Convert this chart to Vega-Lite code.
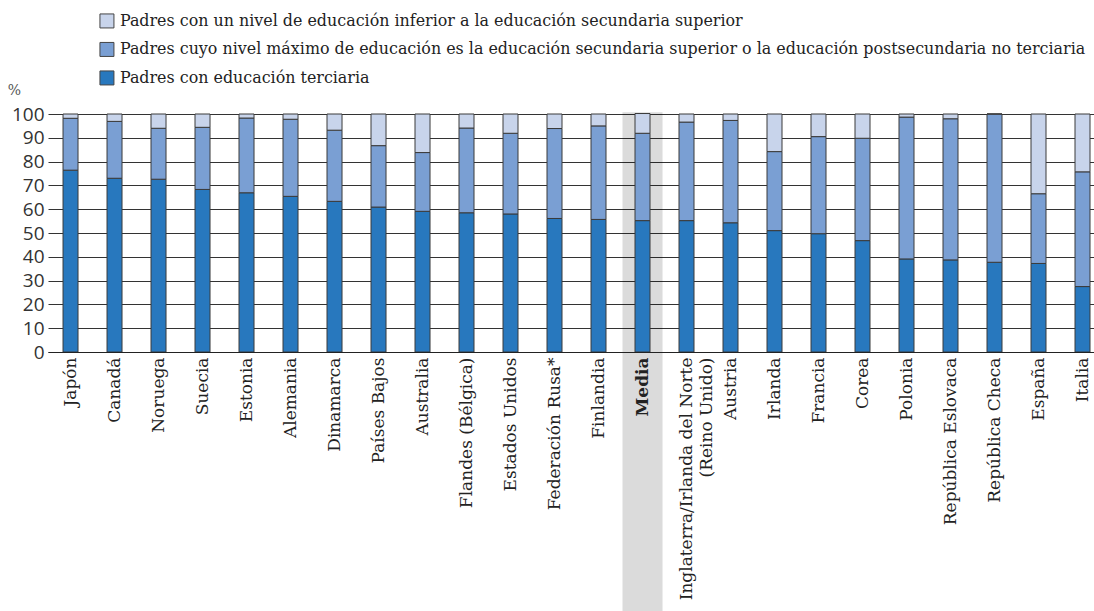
{
  "$schema": "https://vega.github.io/schema/vega-lite/v6.json",
  "width": 1046,
  "height": 238,
  "autosize": {"type": "none"},
  "padding": {"left": 48, "top": 114, "right": 0, "bottom": 259},
  "background": "white",
  "config": {"view": {"stroke": null}},
  "data": {
    "values": [
      {"country": "Japón", "t": 76.4, "s": 21.8, "i": 1.8},
      {"country": "Canadá", "t": 73.0, "s": 23.9, "i": 3.1},
      {"country": "Noruega", "t": 72.6, "s": 21.4, "i": 6.0},
      {"country": "Suecia", "t": 68.3, "s": 26.1, "i": 5.6},
      {"country": "Estonia", "t": 66.9, "s": 31.4, "i": 1.7},
      {"country": "Alemania", "t": 65.4, "s": 32.4, "i": 2.2},
      {"country": "Dinamarca", "t": 63.3, "s": 29.9, "i": 6.8},
      {"country": "Países Bajos", "t": 60.9, "s": 25.8, "i": 13.3},
      {"country": "Australia", "t": 59.1, "s": 24.7, "i": 16.2},
      {"country": "Flandes (Bélgica)", "t": 58.5, "s": 35.6, "i": 5.9},
      {"country": "Estados Unidos", "t": 58.0, "s": 33.9, "i": 8.1},
      {"country": "Federación Rusa*", "t": 56.1, "s": 37.8, "i": 6.1},
      {"country": "Finlandia", "t": 55.7, "s": 39.3, "i": 5.0},
      {"country": "Media", "t": 55.2, "s": 36.7, "i": 8.3},
      {"country": "Inglaterra/Irlanda del Norte (Reino Unido)", "t": 55.2, "s": 41.4, "i": 3.4},
      {"country": "Austria", "t": 54.3, "s": 43.0, "i": 2.7},
      {"country": "Irlanda", "t": 51.0, "s": 33.2, "i": 15.8},
      {"country": "Francia", "t": 49.7, "s": 40.8, "i": 9.5},
      {"country": "Corea", "t": 46.8, "s": 43.0, "i": 10.2},
      {"country": "Polonia", "t": 39.1, "s": 59.6, "i": 1.3},
      {"country": "República Eslovaca", "t": 38.7, "s": 59.3, "i": 2.0},
      {"country": "República Checa", "t": 37.7, "s": 62.3, "i": 0.0},
      {"country": "España", "t": 37.2, "s": 29.3, "i": 33.5},
      {"country": "Italia", "t": 27.5, "s": 48.2, "i": 24.3}
    ]
  },
  "transform": [{"fold": ["t", "s", "i"], "as": ["level", "value"]}],
  "encoding": {
    "x": {
      "field": "country",
      "type": "nominal",
      "sort": null,
      "scale": {"paddingInner": 0.659, "paddingOuter": 0.216, "align": 0.79},
      "axis": {
        "title": null,
        "labelAngle": -90,
        "labelFont": "DejaVu Serif",
        "labelFontSize": 17,
        "labelColor": "#222",
        "labelPadding": 5,
        "labelLimit": 0,
        "labelLineHeight": 20,
        "ticks": false,
        "domain": true,
        "domainColor": "#222",
        "domainWidth": 1.2,
        "zindex": 1,
        "labelExpr": "datum.value === 'Inglaterra/Irlanda del Norte (Reino Unido)' ? ['Inglaterra/Irlanda del Norte', '(Reino Unido)'] : datum.label",
        "labelFontWeight": {"condition": {"test": "datum.value === 'Media'", "value": "bold"}, "value": "normal"}
      }
    }
  },
  "layer": [
    {
      "transform": [{"filter": "datum.level === 't'"}],
      "mark": {"type": "bar", "width": {"band": 2.67}, "color": "#000", "clip": false},
      "encoding": {
        "opacity": {"condition": {"test": "datum.country === 'Media'", "value": 0.14}, "value": 0},
        "y": {
          "datum": 100.7,
          "type": "quantitative",
          "scale": {"domain": [0, 100], "nice": false, "zero": true},
          "axis": {
            "values": [0, 10, 20, 30, 40, 50, 60, 70, 80, 90, 100],
            "grid": true,
            "gridColor": "#333",
            "gridWidth": 1.1,
            "domain": false,
            "ticks": false,
            "labelFont": "Open Sans",
            "labelFontSize": 19,
            "labelColor": "#333",
            "labelPadding": 4,
            "title": "%",
            "titleAngle": 0,
            "titleX": -34,
            "titleY": -24,
            "titleFont": "DejaVu Serif",
            "titleFontSize": 14,
            "titleFontWeight": "normal",
            "titleColor": "#555",
            "titleAlign": "center",
            "titleBaseline": "middle"
          }
        },
        "y2": {"datum": -115}
      }
    },
    {
      "mark": {"type": "bar", "stroke": "#3a3a3a", "strokeWidth": 1},
      "encoding": {
        "y": {
          "field": "value",
          "type": "quantitative",
          "stack": "zero",
          "scale": {"domain": [0, 100], "nice": false, "zero": true},
          "axis": {
            "values": [0, 10, 20, 30, 40, 50, 60, 70, 80, 90, 100],
            "grid": true,
            "gridColor": "#333",
            "gridWidth": 1.1,
            "domain": false,
            "ticks": false,
            "labelFont": "Open Sans",
            "labelFontSize": 19,
            "labelColor": "#333",
            "labelPadding": 4,
            "title": "%",
            "titleAngle": 0,
            "titleX": -34,
            "titleY": -24,
            "titleFont": "DejaVu Serif",
            "titleFontSize": 14,
            "titleFontWeight": "normal",
            "titleColor": "#555",
            "titleAlign": "center",
            "titleBaseline": "middle"
          }
        },
        "order": {"field": "level", "sort": "descending"},
        "color": {
          "field": "level",
          "type": "nominal",
          "scale": {"domain": ["i", "s", "t"], "range": ["#c8d4eb", "#7a9fd3", "#2878be"]},
          "legend": {
            "orient": "none",
            "legendX": 51,
            "legendY": -101,
            "title": null,
            "padding": 0,
            "symbolType": "square",
            "symbolSize": 196,
            "symbolStrokeColor": "#444",
            "symbolStrokeWidth": 1,
            "labelFont": "DejaVu Serif",
            "labelFontSize": 15.9,
            "labelColor": "#222",
            "labelLimit": 0,
            "labelOffset": 5,
            "rowPadding": 9.5,
            "labelExpr": "datum.value === 'i' ? 'Padres con un nivel de educación inferior a la educación secundaria superior' : datum.value === 's' ? 'Padres cuyo nivel máximo de educación es la educación secundaria superior o la educación postsecundaria no terciaria' : 'Padres con educación terciaria'"
          }
        }
      }
    }
  ]
}
